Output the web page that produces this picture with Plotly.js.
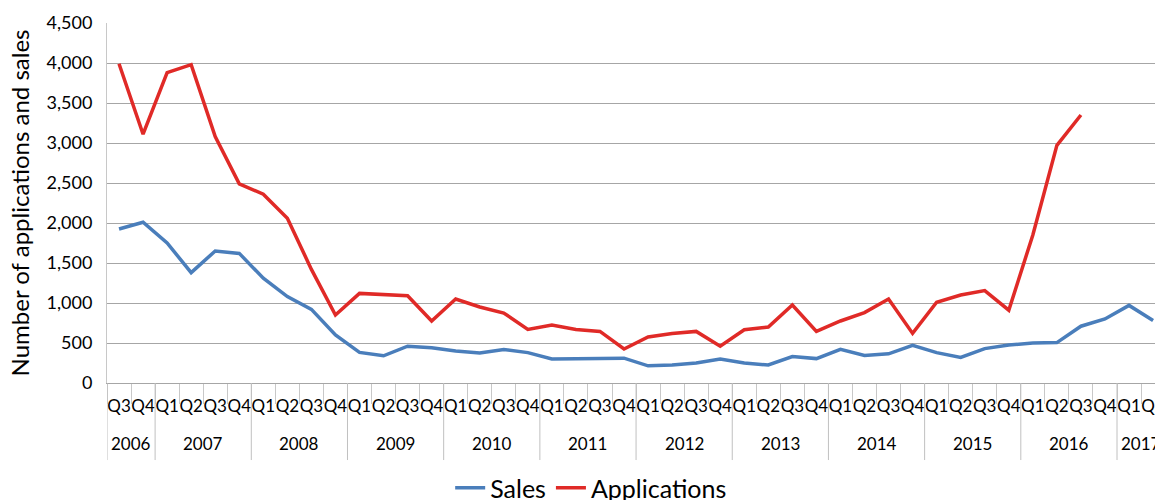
<!DOCTYPE html>
<html>
<head>
<meta charset="utf-8">
<script src="https://cdn.plot.ly/plotly-3.0.1.min.js"></script>
<style>
  html, body { margin: 0; padding: 0; background: #fff; }
  #plot { width: 1155px; height: 500px; }
</style>
</head>
<body>
<div id="plot"></div>
<script>
// quarters from 2006 Q3 to 2017 Q2
var years = ['2006', '2006',
  '2007', '2007', '2007', '2007',
  '2008', '2008', '2008', '2008',
  '2009', '2009', '2009', '2009',
  '2010', '2010', '2010', '2010',
  '2011', '2011', '2011', '2011',
  '2012', '2012', '2012', '2012',
  '2013', '2013', '2013', '2013',
  '2014', '2014', '2014', '2014',
  '2015', '2015', '2015', '2015',
  '2016', '2016', '2016', '2016',
  '2017', '2017'];
var quarters = ['Q3', 'Q4',
  'Q1', 'Q2', 'Q3', 'Q4', 'Q1', 'Q2', 'Q3', 'Q4',
  'Q1', 'Q2', 'Q3', 'Q4', 'Q1', 'Q2', 'Q3', 'Q4',
  'Q1', 'Q2', 'Q3', 'Q4', 'Q1', 'Q2', 'Q3', 'Q4',
  'Q1', 'Q2', 'Q3', 'Q4', 'Q1', 'Q2', 'Q3', 'Q4',
  'Q1', 'Q2', 'Q3', 'Q4', 'Q1', 'Q2', 'Q3', 'Q4',
  'Q1', 'Q2'];

var sales = [1925, 2010,
  1750, 1380, 1650, 1620,
  1310, 1080, 920, 600,
  383, 340, 460, 440,
  400, 375, 420, 380,
  300, 300, 300, 310,
  215, 225, 250, 300,
  250, 225, 330, 305,
  420, 345, 365, 470,
  380, 320, 430, 475,
  500, 505, 710, 800,
  970, 780];

var applications = [3990, 3110,
  3880, 3980, 3080, 2490,
  2360, 2060, 1420, 850,
  1120, 1110, 1090, 775,
  1050, 950, 875, 670,
  725, 670, 645, 425,
  575, 620, 645, 460,
  665, 700, 975, 645,
  775, 880, 1050, 620,
  1010, 1100, 1155, 910,
  1850, 2970, 3350, null,
  null, null];

var font = 'Lato, "Open Sans", sans-serif';

// category index for each quarter
var idx = years.map(function (y, i) { return i; });

// year groups: label at the middle, divider at each group boundary
var annotations = [];
var shapes = [];
var start = 0;
for (var i = 1; i <= years.length; i++) {
  if (i === years.length || years[i] !== years[start]) {
    annotations.push({
      x: (start + i - 1) / 2, xref: 'x',
      y: -0.169, yref: 'paper',
      text: years[start], showarrow: false,
      xanchor: 'center', yanchor: 'middle',
      font: { family: font, size: 17, color: '#000' }
    });
    shapes.push({
      type: 'line', xref: 'x', yref: 'paper',
      x0: start - 0.5, x1: start - 0.5, y0: 0, y1: -0.214,
      line: { color: '#c0c0c0', width: 1 }
    });
    start = i;
  }
}

var trace1 = {
  x: idx,
  y: sales,
  type: 'scatter',
  mode: 'lines',
  name: 'Sales',
  line: { color: '#4a7ebb', width: 3.5 }
};

var trace2 = {
  x: idx,
  y: applications,
  type: 'scatter',
  mode: 'lines',
  name: 'Applications',
  line: { color: '#e02a27', width: 3.5 }
};

var layout = {
  width: 1155,
  height: 500,
  margin: { l: 107, r: 0, t: 23, b: 117, autoexpand: false },
  paper_bgcolor: '#fff',
  plot_bgcolor: '#fff',
  font: { family: font, size: 16, color: '#000' },
  showlegend: true,
  legend: {
    orientation: 'h',
    x: 0.462, xanchor: 'center',
    y: -0.292, yanchor: 'middle',
    font: { size: 25, color: '#000' }
  },
  annotations: annotations,
  shapes: shapes,
  xaxis: {
    range: [-0.5, 43.08],
    tickvals: idx,
    ticktext: quarters,
    tickangle: 0,
    ticklabeloverflow: 'allow',
    showgrid: false,
    zeroline: false,
    showline: true,
    linecolor: '#a6a6a6',
    linewidth: 1,
    ticks: '',
    ticklabelstandoff: 8,
    tickfont: { size: 17, color: '#000' },
    minor: {
      ticks: 'outside', ticklen: 20, tick0: -0.5, dtick: 1,
      tickcolor: '#c8c8c8', showgrid: false
    }
  },
  yaxis: {
    range: [0, 4500],
    dtick: 500,
    tickformat: ',d',
    showgrid: true,
    gridcolor: '#a6a6a6',
    gridwidth: 1,
    zeroline: false,
    showline: true,
    linecolor: '#c8c8c8',
    ticks: '',
    ticklabelstandoff: 10,
    tickfont: { size: 18, color: '#000' },
    title: { text: 'Number of applications and sales', font: { size: 24, color: '#000' }, standoff: 10 }
  }
};

Plotly.newPlot('plot', [trace1, trace2], layout, { displayModeBar: false, staticPlot: true });
</script>
</body>
</html>
